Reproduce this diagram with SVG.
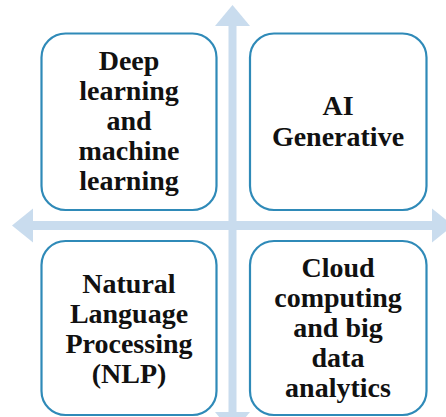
<svg xmlns="http://www.w3.org/2000/svg" width="446" height="417" viewBox="0 0 446 417">
  <style>
    .axis { fill: #c9dcee; }
    .box { fill: #ffffff; stroke: #2f8ab8; stroke-width: 2.2; }
    .label { font-family: "Liberation Serif", "Times New Roman", serif; font-weight: bold; font-size: 28px; fill: #111111; text-anchor: middle; }
  </style>
  <rect width="446" height="417" fill="#ffffff"/>

  <!-- axes: vertical and horizontal double-headed arrows -->
  <g id="connectors">
    <rect class="axis" x="228.5" y="24" width="8" height="392"/>
    <polygon class="axis" points="232.5,5 250,26 215,26"/>
    <polygon class="axis" points="215,412 250,412 232.5,433"/>
    <rect class="axis" x="32" y="221" width="402" height="9"/>
    <polygon class="axis" points="12,225.5 33,208.5 33,242.5"/>
    <polygon class="axis" points="453,225.5 432,208.5 432,242.5"/>
  </g>

  <g id="deep-learning">
    <rect class="box" x="41.5" y="33.5" width="175" height="176.5" rx="24"/>
    <text class="label" x="129" y="69.5">Deep</text>
    <text class="label" x="129" y="99.5">learning</text>
    <text class="label" x="129" y="129.5">and</text>
    <text class="label" x="129" y="159.5">machine</text>
    <text class="label" x="129" y="189.5">learning</text>
  </g>

  <g id="ai-generative">
    <rect class="box" x="250" y="33.5" width="176.5" height="176.5" rx="24"/>
    <text class="label" x="338" y="115">AI</text>
    <text class="label" x="338" y="145.5">Generative</text>
  </g>

  <g id="nlp">
    <rect class="box" x="41.5" y="241" width="175" height="174" rx="24"/>
    <text class="label" x="129" y="293">Natural</text>
    <text class="label" x="129" y="323">Language</text>
    <text class="label" x="129" y="353">Processing</text>
    <text class="label" x="129" y="383">(NLP)</text>
  </g>

  <g id="cloud-big-data">
    <rect class="box" x="250" y="241" width="176.5" height="174" rx="24"/>
    <text class="label" x="338" y="277">Cloud</text>
    <text class="label" x="338" y="307">computing</text>
    <text class="label" x="338" y="337">and big</text>
    <text class="label" x="338" y="367">data</text>
    <text class="label" x="338" y="397">analytics</text>
  </g>
</svg>
